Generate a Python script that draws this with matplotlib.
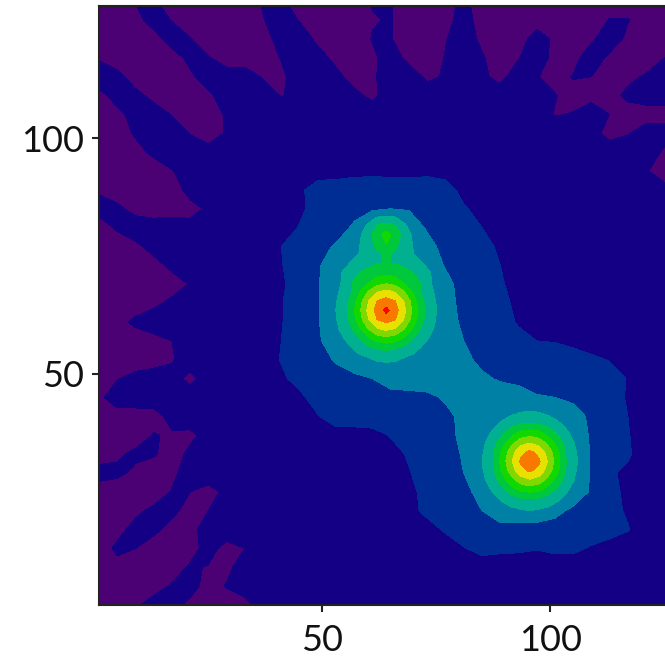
import matplotlib
matplotlib.use("Agg")
import matplotlib.pyplot as plt

# Band colours, lowest band first
band_colors = ["#4b0073", "#140085", "#002d94", "#0080a5", "#00b090", "#00c83c",
               "#10d800", "#80d800", "#e8e000", "#f87800", "#ff0000"]

# --- Coarse field, top row first ---
x_coarse = [1 + 4 * i for i in range(33)]
y_coarse = [129 - 4 * i for i in range(33)]
z_coarse = [
    [.1,.1,.55,.6,.1,.1,.1,.1,.1,.6,.6, .2,.1,.1,.1,.55,.55,.1,.1,.2,.7,.1, .1,.1,.1,.1,.1,.1,.1,.1,.1,.1,.1],
    [0,0,.1,1,.45,0,0,0,0,.45,1, .45,0,0,0,.45,.55,0,0,.1,1,0, 0,0,0,0,0,0,.55,.55,0,0,0],
    [0,0,0,0,1,.55,0,0,0,0,1, 1,.3,0,0,.55,.55,0,0,.45,1,.3, 0,0,1,.3,0,.35,1,.3,0,0,0],
    [.4,0,0,0,0,.8,.55,.2,0,0,.55, 1,.8,.3,0,.3,1,.2,0,.55,1,.6, 0,.45,1,.2,.2,1,.3,0,0,.5,.6],
    [1,.8,0,0,0,.3,1,.8,1,.4,.3, 1,1,.7,.2,.35,1,1,.3,.6,1,.7, .2,1,.55,.2,.55,.5,0,.3,.6,1,1],
    [.2,.9,.8,.2,0,0,.3,1,1,1,.45, .8,1,1,.7,.3,1,1,1,1,1,1, 1,1,1,.55,.2,.2,.2,.7,.9,.9,.9],
    [.1,.2,.9,1,.45,.1,.1,.6,1,1,1, 1,1,1,1,1,1,1,1,1,1,1, 1,1,.9,.45,.55,1,.5,.1,.1,.1,.1],
    [0,.1,.6,1,1,.45,.1,.6,1,1,1, 1,1,1,1,1,1,1,1,1,1,1, 1,1,1,1,1,.8,.2,.45,.9,.9,.9],
    [0,0,.2,.7,1,1,.8,.6,1,1,1, 1,1,1,1,1,1,1,1,1,1,1, 1,1,1,1,1,1,1,1,1,.35,.2],
    [0,0,0,0,.45,.9,1,1,1,1,1, 1,1,1.1,1.2,1.25,1.2,1.15,1.25,1.15,1,1, 1,1,1,1,1,1,1,1,.55,.2,.2],
    [.4,0,0,0,.2,.7,1,1,1,1,1, 1.3,2,2,2.1,2.1,2.1,2.1,2.1,1.9,1.2,1, 1,1,1,1,1,1,1,1,1,.7,.7],
    [.8,.7,.2,0,.1,.3,.6,1,1,1,1, 1.35,1.8,2,2.2,2.45,2.5,2.45,2.2,2,1.6,1.2, 1,1,1,1,1,1,1,1,1,1,1],
    [.1,.6,1,1,1,.7,.8,1,1,1,1.1, 1.55,1.9,2.1,2.65,3,3,3,2.4,2,1.9,1.5, 1.2,1,1,1,1,1,1,1,1,1,1],
    [0,.1,.3,.8,1,1,1,1,1,1.1,1.5, 1.9,2.2,2.6,3,3,3,3,2.8,2.2,2,1.7, 1.4,1,1,1,1,1,1,1,1,1,1],
    [0,0,0,.2,.7,1,1,1,1,1,1.45, 2,2.4,3,3,3,3,3,2.9,2.45,2,1.8, 1.5,1.1,1,1,1,1,1,1,1,1,1],
    [0,0,0,0,.1,.55,1,1,1,1,1.4, 1.8,2.45,3,3,3,3,3,3,2.7,2.25,2, 1.6,1.2,1,1,1,1,1,1,1,1,1],
    [0,0,0,.3,.7,1,1,1,1,1,1.45, 2,2.45,3,3,3,3,3,3,2.75,2.3,2, 1.75,1.3,1,1,1,1,1,1,1,1,1],
    [0,.2,.7,1,1,1,1,1,1,1,1.45, 2,2.45,3,3,3,3,3,3,2.85,2.35,2, 1.9,1.4,1.1,1,1,1,1,1,1,1,1],
    [0,0,0,.2,.5,1,1,1,1,1,1.5, 2,2.4,2.9,3,3,3,3,3,3,2.5,2.1, 2,1.8,1.5,1.45,1.2,1,1,1,1,1,1],
    [0,0,0,.1,.4,1,1,1,1,1.1,1.55, 2,2.1,2.6,3,3,3,3,3,3,2.7,2.3, 2.1,2,2,2,2,1.7,1.45,1.1,1,1,1],
    [.1,.45,.8,1,.9,.2,1,1,1,1,1.35, 1.8,2.1,2.1,2.3,2.5,3,3,3,3,3,2.65, 2.4,2.2,2,2,2,2,1.9,1.45,1.1,1,1],
    [.3,1,1,1,1,1,1,1,1,1,1, 1.3,1.9,2,2,2,2.1,2.2,2.3,2.6,3,3, 3,3,2.6,2.5,2.3,2,1.95,1.4,1,1,1],
    [.1,.1,.1,.15,.8,1,1,1,1,1,1, 1.1,1.45,2,2,2,2,2,2,2.3,2.7,3, 3,3,3,3,2.9,2.3,1.95,1.5,1.1,1,1],
    [0,0,0,.55,.4,.3,.8,1,1,1,1, 1,1,1.1,1.1,1.2,1.55,1.8,2,2.3,2.65,3, 3,3,3,3,3,2.4,2,1.55,1.1,1,1],
    [0,.35,.7,.6,.1,.7,1,1,1,1,1, 1,1,1,1,1,1.2,1.6,2,2.1,2.6,3, 3,3,3,3,3,2.45,2,1.6,1.1,1,1],
    [.9,.7,.3,0,.3,.9,1,1,1,1,1, 1,1,1,1,1,1,1.45,1.9,2.1,2.5,3, 3,3,3,3,3,2.45,1.6,1.35,1,1,1],
    [0,0,0,0,.55,.5,.2,.7,1,1,1, 1,1,1,1,1,1,1.3,1.75,2,2.3,2.75, 3,3,3,3,3,2.4,1.7,1.35,1,1,1],
    [0,0,.3,.7,.7,.2,.5,1,1,1,1, 1,1,1,1,1,1,1.25,1.7,2,2.1,2.5, 3,3,3,2.7,2.35,2,1.75,1.4,1,1,1],
    [0,.2,.8,.7,.2,.3,.8,1,.6,1,1, 1,1,1,1,1,1,1,1.2,1.6,2,2.2, 2.2,2.2,2.2,2.2,2.1,2,1.9,1.55,1,1,1],
    [0,.7,.5,.1,.1,.2,.8,.2,.5,1,1, 1,1,1,1,1,1,1,1,1.1,1.45,1.8, 1.7,1.65,1.55,1.7,1.7,1.4,1.1,1,1,1,1],
    [0,.2,0,0,.1,.6,.45,.3,.9,1,1, 1,1,1,1,1,1,1,1,1,1,1, 1,1,1,1,1,1,1,1,1,1,1],
    [0,0,0,.1,.6,.8,.2,.55,.8,1,1, 1,1,1,1,1,1,1,1,1,1,1, 1,1,1,1,1,1,1,1,1,1,1],
    [0,0,.35,.9,.8,.3,0,0,.3,.8,1, 1,1,1,1,1,1,1,1,1,1,1, 1,1,1,1,1,1,1,1,1,1,1],
]

# --- Upper peak, finer grid ---
x_peak1 = [52 + 2 * i for i in range(13)]
y_peak1 = [83.5 - 2 * i for i in range(17)]
z_peak1 = [
    [2.2,2.3,2.5,2.8,3.1,3.35,3.45,3.35,3.1,2.8,2.5,2.3,2.2],
    [2.3,2.45,2.7,3.1,3.6,4.5,4.8,4.5,3.6,3.1,2.7,2.45,2.3],
    [2.35,2.6,2.9,3.3,4.05,5.1,5.9,5.1,4.05,3.3,2.9,2.6,2.35],
    [2.45,2.7,3.0,3.4,4.15,4.7,5.5,4.7,4.15,3.4,3.0,2.7,2.45],
    [2.55,2.8,3.1,3.5,4.1,4.4,4.6,4.4,4.1,3.5,3.1,2.8,2.55],
    [2.8,3.1,3.5,3.85,4.1,4.45,4.55,4.45,4.1,3.85,3.5,3.1,2.8],
    [3.05,3.45,3.9,4.45,4.9,5.1,5.2,5.1,4.9,4.45,3.9,3.45,3.05],
    [3.05,3.45,4.35,4.85,5.3,5.95,6.2,5.95,5.3,4.85,4.35,3.45,3.05],
    [3.05,3.6,4.27,5.29,6.47,7.37,7.7,7.37,6.47,5.29,4.27,3.6,3.05],
    [3.15,3.75,4.6,5.95,7.37,8.49,8.87,8.49,7.37,5.95,4.6,3.75,3.15],
    [3.2,3.83,4.77,6.2,7.7,8.87,9.8,8.87,7.7,6.2,4.77,3.83,3.2],
    [3.15,3.75,4.6,5.95,7.37,8.49,8.87,8.49,7.37,5.95,4.6,3.75,3.15],
    [3.05,3.6,4.27,5.29,6.47,7.37,7.7,7.37,6.47,5.29,4.27,3.6,3.05],
    [2.9,3.3,3.83,4.45,5.29,5.95,6.2,5.95,5.29,4.45,3.83,3.3,2.9],
    [2.7,3.0,3.37,3.83,4.27,4.6,4.77,4.6,4.27,3.83,3.37,3.0,2.7],
    [2.5,2.8,3.0,3.3,3.5,3.75,3.83,3.75,3.5,3.3,3.0,2.8,2.5],
    [2.35,2.5,2.7,2.9,3.05,3.15,3.2,3.15,3.05,2.9,2.7,2.5,2.35],
]

# --- Lower peak, finer grid ---
x_peak2 = [83.5 + 2 * i for i in range(13)]
y_peak2 = [43.5 - 2 * i for i in range(13)]
z_peak2 = [
    [2.5,2.6,2.8,2.9,3.0,3.05,3.1,3.05,3.0,2.9,2.8,2.6,2.5],
    [2.6,2.8,3.0,3.2,3.4,3.6,3.65,3.6,3.4,3.2,3.0,2.8,2.6],
    [2.8,3.0,3.3,3.63,4.1,4.4,4.48,4.4,4.1,3.63,3.3,3.0,2.8],
    [2.9,3.2,3.63,4.3,5.1,5.75,5.95,5.75,5.1,4.3,3.63,3.2,2.9],
    [3.0,3.4,4.1,5.1,6.15,7.03,7.4,7.03,6.15,5.1,4.1,3.4,3.0],
    [3.05,3.55,4.4,5.75,7.03,8.2,8.65,8.2,7.03,5.75,4.4,3.55,3.05],
    [3.1,3.63,4.48,5.95,7.4,8.65,9.4,8.65,7.4,5.95,4.48,3.63,3.1],
    [3.05,3.55,4.4,5.75,7.03,8.2,8.65,8.2,7.03,5.75,4.4,3.55,3.05],
    [3.0,3.4,4.1,5.1,6.15,7.03,7.4,7.03,6.15,5.1,4.1,3.4,3.0],
    [2.9,3.2,3.63,4.3,5.1,5.75,5.95,5.75,5.1,4.3,3.63,3.2,2.9],
    [2.8,3.0,3.3,3.63,4.1,4.4,4.48,4.4,4.1,3.63,3.3,3.0,2.8],
    [2.6,2.8,3.0,3.2,3.4,3.55,3.63,3.55,3.4,3.2,3.0,2.8,2.6],
    [2.5,2.6,2.8,2.9,3.0,3.05,3.1,3.05,3.0,2.9,2.8,2.6,2.5],
]

xticks = [50, 100]
yticks = [50, 100]

plt.rcParams['font.family'] = ['Lato', 'DejaVu Sans']

fig = plt.figure(figsize=(6.65, 6.58), dpi=100)
# the axes run past the right edge of the picture, as in the reference
ax = fig.add_axes([99 / 665, 53 / 658, 579 / 665, 599 / 658])

ax.contourf(x_coarse, y_coarse, z_coarse, levels=[-1, .5, 1.5, 2.5, 3.5], colors=band_colors[:4])
peak_levels = [3.5, 4.5, 5.5, 6.5, 7.5, 8.5, 9.5, 10.5]
ax.contourf(x_peak1, y_peak1, z_peak1, levels=peak_levels, colors=band_colors[4:])
ax.contourf(x_peak2, y_peak2, z_peak2, levels=peak_levels, colors=band_colors[4:])

ax.set_xlim(1, 128)
ax.set_ylim(1, 128)
ax.set_xticks(xticks)
ax.set_yticks(yticks)
ax.tick_params(length=5, width=1.5, labelsize=26, color="#222222", labelcolor="#111111", pad=6)
ax.tick_params(axis='x', pad=9)
for side in ax.spines:
    ax.spines[side].set_linewidth(1.5)
    ax.spines[side].set_color("#222222")
ax.spines['right'].set_visible(False)

plt.savefig("out.png", dpi=100)
